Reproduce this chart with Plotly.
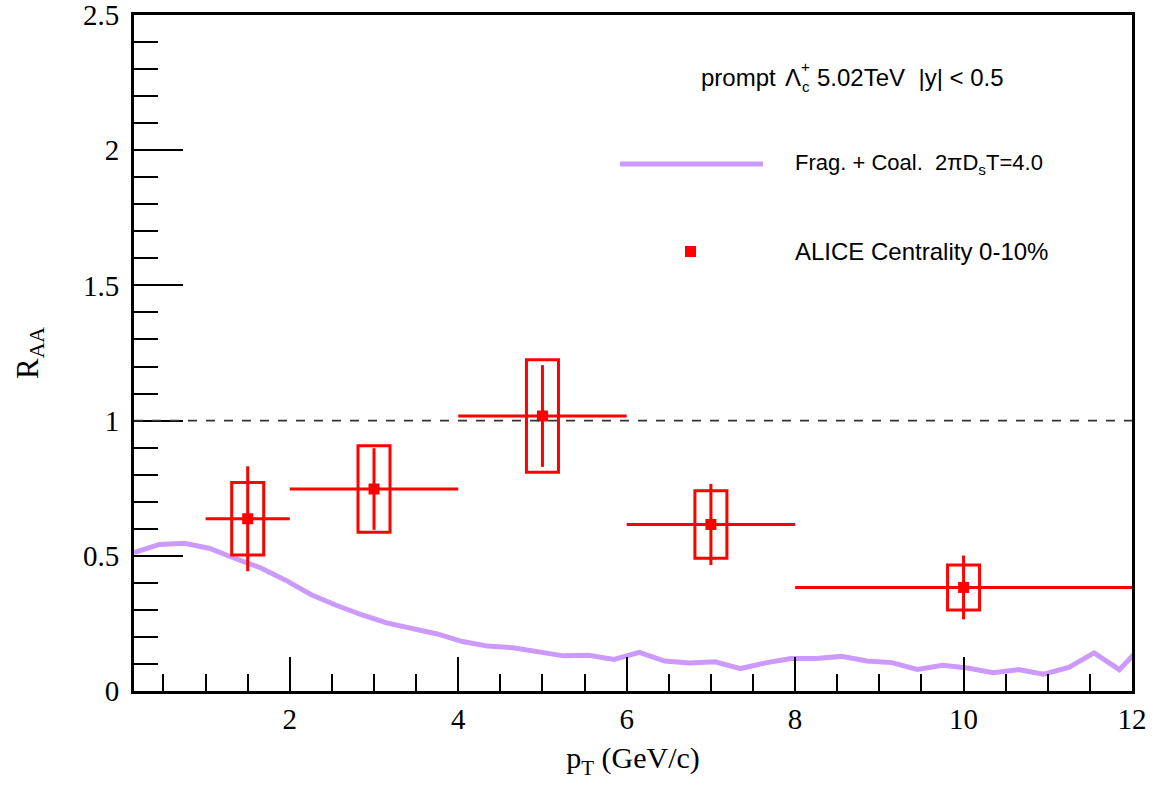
import plotly.graph_objects as go

# ---- data ----
model_pt = [0.15, 0.45, 0.75, 1.05, 1.35, 1.65, 1.95, 2.25, 2.55, 2.85,
            3.15, 3.45, 3.75, 4.05, 4.35, 4.65, 4.95, 5.25, 5.55, 5.85,
            6.15, 6.45, 6.75, 7.05, 7.35, 7.65, 7.95, 8.25, 8.55, 8.85,
            9.15, 9.45, 9.75, 10.05, 10.35, 10.65, 10.95, 11.25, 11.55, 11.85, 12.15]
model_raa = [0.512, 0.542, 0.546, 0.527, 0.490, 0.456, 0.410, 0.357, 0.317, 0.282,
             0.252, 0.230, 0.211, 0.183, 0.166, 0.160, 0.145, 0.130, 0.132, 0.117,
             0.143, 0.111, 0.104, 0.108, 0.083, 0.104, 0.120, 0.120, 0.128, 0.111,
             0.105, 0.080, 0.095, 0.085, 0.068, 0.079, 0.062, 0.087, 0.141, 0.079, 0.177]

alice_pt = [1.5, 3.0, 5.0, 7.0, 10.0]
alice_pt_err = [0.5, 1.0, 1.0, 1.0, 2.0]
alice_raa = [0.637, 0.747, 1.017, 0.616, 0.383]
alice_stat = [0.194, 0.151, 0.188, 0.150, 0.118]
alice_sys = [0.134, 0.160, 0.208, 0.125, 0.083]
sys_box_halfwidth = 0.19

x_ticks = [2, 4, 6, 8, 10, 12]
y_ticks = [0, 0.5, 1, 1.5, 2, 2.5]

label_model = "Frag. + Coal.&nbsp;&nbsp;2πD<sub>s</sub>T=4.0"
label_data = "ALICE Centrality 0-10%"

RED = "#ff0000"
PURPLE = "#cc99ff"

# layout geometry (pixels)
W, H = 1158, 786
L, R, T, B = 134, 26, 15, 95
PW, PH = W - L - R, H - T - B


def px(xp):
    return (xp - L) / PW


def py(yp):
    return (H - B - yp) / PH


fig = go.Figure()

fig.add_trace(go.Scatter(
    x=model_pt, y=model_raa, mode="lines",
    line=dict(color=PURPLE, width=5),
    showlegend=False, hoverinfo="skip"))

fig.add_trace(go.Scatter(
    x=alice_pt, y=alice_raa, mode="markers",
    marker=dict(symbol="square", size=11, color=RED),
    error_x=dict(type="data", array=alice_pt_err, color=RED, thickness=3, width=0),
    error_y=dict(type="data", array=alice_stat, color=RED, thickness=3, width=0),
    showlegend=False))

shapes = []
for xv, yv, s in zip(alice_pt, alice_raa, alice_sys):
    shapes.append(dict(type="rect", xref="x", yref="y",
                       x0=xv - sys_box_halfwidth, x1=xv + sys_box_halfwidth,
                       y0=yv - s, y1=yv + s,
                       line=dict(color=RED, width=3), fillcolor="rgba(0,0,0,0)"))

# reference line at R_AA = 1
shapes.append(dict(type="line", xref="paper", yref="y", x0=0, x1=1, y0=1, y1=1,
                   line=dict(color="#333333", width=1.8, dash="dash")))

# legend sample line
shapes.append(dict(type="line", xref="paper", yref="paper",
                   x0=px(620), x1=px(763), y0=py(164), y1=py(164),
                   line=dict(color=PURPLE, width=5)))
# legend marker
shapes.append(dict(type="rect", xref="paper", yref="paper",
                   x0=px(685), x1=px(696), y0=py(257), y1=py(246),
                   line=dict(color=RED, width=0), fillcolor=RED))

SANS = "Liberation Sans, Arial, sans-serif"
SERIF = "Liberation Serif, Times New Roman, serif"
leg_font = dict(family=SANS, size=24, color="black")
small_font = dict(family=SANS, size=15, color="black")

annotations = [
    dict(xref="paper", yref="paper", x=px(700), y=py(78), xanchor="left", yanchor="middle",
         text="prompt", showarrow=False, font=leg_font, borderpad=0),
    dict(xref="paper", yref="paper", x=px(784), y=py(78), xanchor="left", yanchor="middle",
         text="Λ", showarrow=False, font=leg_font, borderpad=0),
    dict(xref="paper", yref="paper", x=px(800), y=py(67), xanchor="left", yanchor="middle",
         text="+", showarrow=False, font=small_font, borderpad=0),
    dict(xref="paper", yref="paper", x=px(801), y=py(86), xanchor="left", yanchor="middle",
         text="c", showarrow=False, font=small_font, borderpad=0),
    dict(xref="paper", yref="paper", x=px(816), y=py(78), xanchor="left", yanchor="middle",
         text="5.02TeV&nbsp;&nbsp;|y| < 0.5", showarrow=False, font=leg_font, borderpad=0),
    dict(xref="paper", yref="paper", x=px(794), y=py(164), xanchor="left", yanchor="middle",
         text=label_model, showarrow=False, font=dict(family=SANS, size=22, color="black"),
         borderpad=0),
    dict(xref="paper", yref="paper", x=px(794), y=py(252), xanchor="left", yanchor="middle",
         text=label_data, showarrow=False, font=leg_font, borderpad=0),
]

fig.update_layout(
    width=W, height=H,
    margin=dict(l=L, r=R, t=T, b=B, autoexpand=False),
    paper_bgcolor="white", plot_bgcolor="white",
    shapes=shapes, annotations=annotations,
    showlegend=False,
    xaxis=dict(
        range=[0.15, 12], showgrid=False, zeroline=False, automargin=False,
        showline=True, linecolor="black", linewidth=3, mirror=True,
        ticks="inside", ticklen=34, tickwidth=1.5, tickcolor="black",
        tickmode="array", tickvals=x_ticks, ticktext=[str(v) for v in x_ticks],
        tickfont=dict(family=SERIF, size=29, color="black"),
        ticklabeloverflow="allow",
        minor=dict(ticks="inside", ticklen=17, tickwidth=1.5, tickcolor="black",
                   dtick=0.5, tick0=0, showgrid=False),
        title=dict(text="p<sub>T</sub> (GeV/c)", font=dict(family=SERIF, size=30, color="black"),
                   standoff=14),
    ),
    yaxis=dict(
        range=[0, 2.5], showgrid=False, zeroline=False, automargin=False,
        showline=True, linecolor="black", linewidth=3, mirror=True,
        ticks="inside", ticklen=49, tickwidth=1.5, tickcolor="black",
        tickmode="array", tickvals=y_ticks, ticktext=["0", "0.5", "1", "1.5", "2", "2.5"],
        tickfont=dict(family=SERIF, size=29, color="black"),
        ticklabelstandoff=6, ticklabeloverflow="allow",
        minor=dict(ticks="inside", ticklen=24, tickwidth=1.5, tickcolor="black",
                   dtick=0.1, tick0=0, showgrid=False),
        title=dict(text="R<sub>AA</sub>", font=dict(family=SERIF, size=31, color="black"),
                   standoff=36),
    ),
)

fig.write_html("out.html")
